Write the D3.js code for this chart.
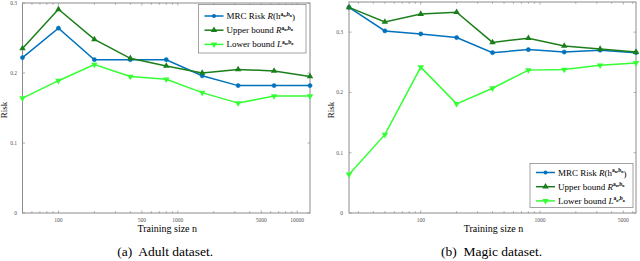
<!DOCTYPE html>
<html>
<head>
<meta charset="utf-8">
<script src="https://cdn.jsdelivr.net/npm/d3@7"></script>
<style>
  html, body { margin: 0; padding: 0; background: #fff; }
  svg { display: block; }
</style>
</head>
<body>
<div id="chart"></div>
<script>
// adult dataset
const adultN = [50, 100, 200, 400, 800, 1600, 3200, 6400, 12800]
const adultRisk = [0.222, 0.264, 0.219, 0.219, 0.219, 0.196, 0.182, 0.182, 0.182]
const adultUpper = [0.235, 0.291, 0.248, 0.221, 0.210, 0.200, 0.205, 0.203, 0.195]
const adultLower = [0.164, 0.189, 0.212, 0.195, 0.191, 0.172, 0.157, 0.167, 0.167]
const adultXTicks = [100, 500, 1000, 5000, 10000]

// magic dataset
const magicN = [25, 50, 100, 200, 400, 800, 1600, 3200, 6400]
const magicRisk = [0.341, 0.302, 0.297, 0.291, 0.266, 0.271, 0.267, 0.270, 0.266]
const magicUpper = [0.341, 0.317, 0.330, 0.333, 0.283, 0.290, 0.277, 0.272, 0.267]
const magicLower = [0.064, 0.130, 0.242, 0.181, 0.207, 0.237, 0.238, 0.245, 0.249]
const magicXTicks = [100, 1000, 5000]

const yTicks = [0, 0.1, 0.2, 0.3]

const W = 640, H = 261
const axisColor = '#8c8c8c'
const serif = 'Liberation Serif, Times New Roman, serif'
const colors = { risk: '#0072bd', upper: '#1a7f1a', lower: '#33ff33' }

const svg = d3.select('#chart').append('svg')
  .attr('width', W).attr('height', H)

// "Name  R(h^{a_n,b_n})" style labels
function legendLabel(text, name, sym, paren) {
  text.append('tspan').text(name + ' ')
  text.append('tspan').attr('font-style', 'italic').text(sym)
  if (paren) text.append('tspan').text('(h')
  const sup = t => text.append('tspan').attr('font-size', 5.5).attr('font-weight', 'bold').text(t)
  const sub = () => text.append('tspan').attr('font-size', 3.8).attr('font-weight', 'bold').attr('dy', 1.2).text('n')
  sup('a').attr('dy', -3.5)
  sub()
  sup(',').attr('dy', -1.2)
  sup('b')
  sub()
  if (paren) text.append('tspan').attr('dy', 3.5).text(')')
}

function drawPanel(cfg) {
  const { n, risk, upper, lower, xTicks, x0, x1, yMax, yTop, caption, legend, riskLabelX, yLabelEnd } = cfg
  const y0 = 213
  const x = d3.scaleLog().domain([n[0], n[n.length - 1]]).range([x0, x1])
  const y = d3.scaleLinear().domain([0, yMax]).range([y0, yTop])

  const g = svg.append('g')

  // frame
  g.append('rect')
    .attr('x', x0).attr('y', yTop)
    .attr('width', x1 - x0).attr('height', y0 - yTop)
    .attr('fill', 'none').attr('stroke', axisColor).attr('stroke-width', 1)

  // minor + major log ticks, drawn inward on bottom and top
  const allTicks = x.ticks(20).filter(t => t >= n[0] && t <= n[n.length - 1])
  const tickLen = t => xTicks.includes(t) || [100, 1000, 10000].includes(t) ? 2.5 : 1.8
  g.append('g').selectAll('line').data(allTicks).join('line')
    .attr('x1', d => x(d)).attr('x2', d => x(d))
    .attr('y1', y0).attr('y2', d => y0 - tickLen(d))
    .attr('stroke', axisColor).attr('stroke-width', 0.7)
  g.append('g').selectAll('line').data(allTicks).join('line')
    .attr('x1', d => x(d)).attr('x2', d => x(d))
    .attr('y1', yTop).attr('y2', d => yTop + tickLen(d))
    .attr('stroke', axisColor).attr('stroke-width', 0.7)

  // y ticks, left and right
  g.append('g').selectAll('line').data(yTicks).join('line')
    .attr('x1', x0).attr('x2', x0 + 2.5)
    .attr('y1', d => y(d)).attr('y2', d => y(d))
    .attr('stroke', axisColor).attr('stroke-width', 0.7)
  g.append('g').selectAll('line').data(yTicks).join('line')
    .attr('x1', x1).attr('x2', x1 - 2.5)
    .attr('y1', d => y(d)).attr('y2', d => y(d))
    .attr('stroke', axisColor).attr('stroke-width', 0.7)

  // tick labels
  g.append('g')
    .attr('font-family', serif).attr('font-size', 5.5).attr('fill', '#555')
    .attr('text-anchor', 'middle')
    .selectAll('text').data(xTicks).join('text')
    .attr('x', d => x(d)).attr('y', 221.5).text(d => d)
  g.append('g')
    .attr('font-family', serif).attr('font-size', 5.5).attr('fill', '#555')
    .attr('text-anchor', 'end')
    .selectAll('text').data(yTicks).join('text')
    .attr('x', yLabelEnd).attr('y', d => y(d) + 2).text(d => d)

  // axis labels
  g.append('text')
    .attr('font-family', serif).attr('font-size', 10)
    .attr('text-anchor', 'middle')
    .attr('x', (x0 + x1) / 2 + 1).attr('y', 232)
    .text('Training size n')
  g.append('text')
    .attr('font-family', serif).attr('font-size', 9)
    .attr('text-anchor', 'middle')
    .attr('transform', `translate(${riskLabelX},110) rotate(-90)`)
    .text('Risk')
  g.append('text')
    .attr('font-family', serif).attr('font-size', 13.5)
    .attr('text-anchor', 'middle')
    .attr('x', (x0 + x1) / 2 - 1).attr('y', 256)
    .text(caption)

  const series = [
    { key: 'risk', values: risk, marker: 'circle' },
    { key: 'upper', values: upper, marker: 'up' },
    { key: 'lower', values: lower, marker: 'down' }
  ]
  const line = d3.line().x((d, i) => x(n[i])).y(d => y(d))
  const tri = d3.symbol().type(d3.symbolTriangle).size(18)

  series.forEach(s => {
    const c = colors[s.key]
    g.append('path').datum(s.values)
      .attr('d', line).attr('fill', 'none')
      .attr('stroke', c).attr('stroke-width', 1.5)
    const m = g.append('g').selectAll('.m').data(s.values).join(s.marker === 'circle' ? 'circle' : 'path')
    if (s.marker === 'circle') {
      m.attr('cx', (d, i) => x(n[i])).attr('cy', d => y(d)).attr('r', 2.1)
        .attr('fill', c).attr('stroke', c).attr('stroke-width', 0.5)
    } else {
      m.attr('d', tri)
        .attr('transform', (d, i) => `translate(${x(n[i])},${y(d)})` + (s.marker === 'down' ? ' rotate(180)' : ''))
        .attr('fill', c)
    }
  })

  // legend
  const lg = g.append('g').attr('transform', `translate(${legend.x},${legend.y})`)
  lg.append('rect').attr('width', legend.w).attr('height', legend.h)
    .attr('fill', '#fff').attr('stroke', axisColor).attr('stroke-width', 0.8)
  const entries = [
    { key: 'risk', name: 'MRC Risk', sym: 'R', paren: true, marker: 'circle' },
    { key: 'upper', name: 'Upper bound', sym: 'R', paren: false, marker: 'up' },
    { key: 'lower', name: 'Lower bound', sym: 'L', paren: false, marker: 'down' }
  ]
  entries.forEach((e, i) => {
    const cy = legend.pad + i * 14.2
    const c = colors[e.key]
    lg.append('line').attr('x1', 6).attr('x2', 25).attr('y1', cy).attr('y2', cy)
      .attr('stroke', c).attr('stroke-width', 1.5)
    if (e.marker === 'circle') {
      lg.append('circle').attr('cx', 15.5).attr('cy', cy).attr('r', 2).attr('fill', c)
    } else {
      lg.append('path').attr('d', tri)
        .attr('transform', `translate(15.5,${cy})` + (e.marker === 'down' ? ' rotate(180)' : ''))
        .attr('fill', c)
    }
    const t = lg.append('text')
      .attr('font-family', serif).attr('font-size', 9)
      .attr('x', 28).attr('y', cy + 3)
    legendLabel(t, e.name, e.sym, e.paren)
  })
}

drawPanel({
  n: adultN, risk: adultRisk, upper: adultUpper, lower: adultLower, xTicks: adultXTicks,
  x0: 22.5, x1: 310, yMax: 0.3, yTop: 3,
  caption: '(a)\u00a0 Adult dataset.', riskLabelX: 7, yLabelEnd: 17,
  legend: { x: 198.5, y: 4.5, w: 107.5, h: 48.5, pad: 11.5 }
})

drawPanel({
  n: magicN, risk: magicRisk, upper: magicUpper, lower: magicLower, xTicks: magicXTicks,
  x0: 349, x1: 636, yMax: 0.35, yTop: 2,
  caption: '(b)\u00a0 Magic dataset.', riskLabelX: 334, yLabelEnd: 343,
  legend: { x: 530, y: 163.5, w: 103, h: 44, pad: 9 }
})
</script>
</body>
</html>
